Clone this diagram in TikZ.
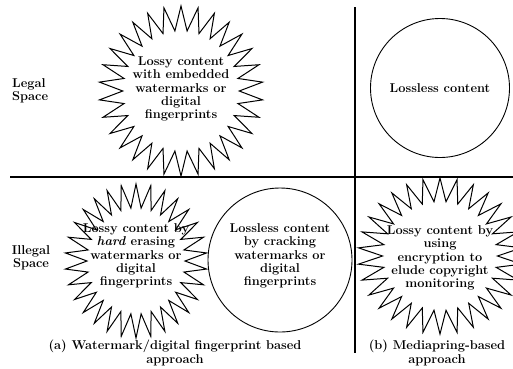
\documentclass[tikz,border=0pt]{standalone}
\begin{document}
\begin{tikzpicture}[x=1pt,y=-1pt,
  lbl/.style={font=\bfseries\fontsize{12.8}{13.4}\selectfont, align=center, inner sep=0pt},
  sepline/.style={line width=1.7pt},
  ring/.style={draw, circle, line width=0.9pt, inner sep=0pt},
  burst/.style={line width=1.0pt, line join=miter}
]
\useasboundingbox (0,0) rectangle (513,368);
\newcommand\mystarburst[5]{% center, rx, ry, ratio, points
  \pgfmathtruncatemacro\nn{2*#5}
  \pgfmathsetmacro\stepang{360/(2*#5)}
  \draw[burst, shift={(#1)}] plot[samples=\nn+1, domain=0:\nn, variable=\k]
    ({#2*(ifthenelse(mod(round(\k),2)==0,1,#4))*cos(\k*\stepang+90)},
     {#3*(ifthenelse(mod(round(\k),2)==0,1,#4))*sin(\k*\stepang+90)}) -- cycle;
}
% separators
\coordinate (h1) at (10,177);
\coordinate (h2) at (513,177);
\coordinate (v1) at (355,7);
\coordinate (v2) at (355,353);
\draw[sepline] (h1) -- (h2);
\draw[sepline] (v1) -- (v2);
% row labels
\node[lbl, align=left, anchor=west] (legal) at (12,91) {Legal\\Space};
\node[lbl] (illegal) at (31,258) {Illegal\\Space};
% top left star
\coordinate (s1) at (181,91);
\mystarburst{s1}{82}{85}{0.71}{30}
\node[lbl] (t1) at (181,89) {Lossy content\\with embedded\\watermarks or\\digital\\fingerprints};
% top right circle
\node[ring, minimum size=139pt, font=\bfseries\fontsize{12.8}{13.4}\selectfont] (c1) at (440,88) {Lossless content};
% bottom left star
\coordinate (s2) at (136,261);
\mystarburst{s2}{71}{77}{0.69}{30}
\node[lbl] (t2) at (136,256) {Lossy content by\\\textit{hard} erasing\\watermarks or\\digital\\fingerprints};
% bottom middle circle
\node[ring, minimum size=144pt] (c2) at (280,260) {};
\node[lbl] (t3) at (c2.center) [yshift=4pt] {Lossless content\\by cracking\\watermarks or\\digital\\fingerprints};
% bottom right star
\coordinate (s3) at (440,256);
\mystarburst{s3}{82}{78}{0.70}{30}
\node[lbl] (t4) at (440,258) {Lossy content by\\using\\encryption to\\elude copyright\\monitoring};
% captions
\node[lbl] (capa) at (175,353) {(a) Watermark/digital fingerprint based\\approach};
\node[lbl] (capb) at (437,353) {(b) Mediapring-based\\approach};
\end{tikzpicture}
\end{document}
